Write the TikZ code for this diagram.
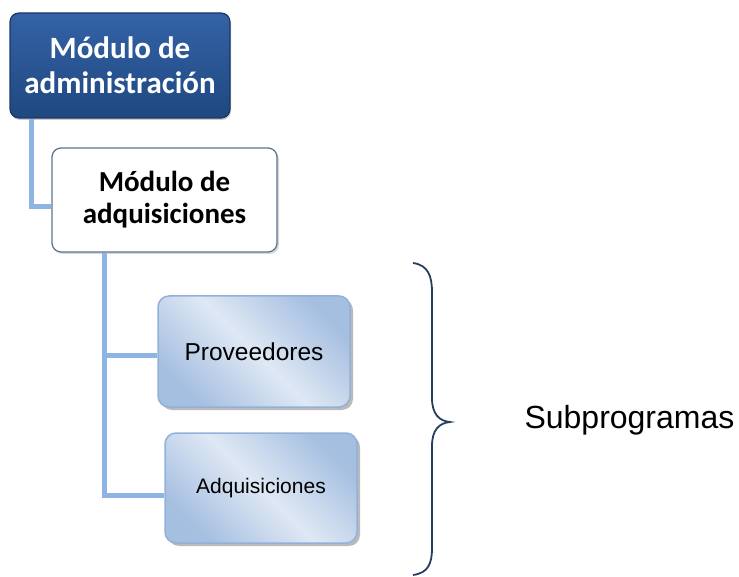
\documentclass[tikz,border=0pt]{standalone}
\usepackage{fontspec}
\setmainfont{Liberation Sans}
\newfontfamily\calib{Carlito}
\usetikzlibrary{shadows}
\definecolor{navytop}{HTML}{3462A6}
\definecolor{navybot}{HTML}{1F4880}
\definecolor{navyedge}{HTML}{1B3764}
\definecolor{linkblue}{HTML}{8DB4E2}
\definecolor{paleblue}{HTML}{DFE8F4}
\definecolor{midblue}{HTML}{A5BFE1}
\definecolor{paleedge}{HTML}{93B1D8}
\definecolor{graybord}{HTML}{5F7590}
\definecolor{bracecol}{HTML}{243F60}
\tikzset{
  topbox/.style={draw=navyedge, line width=1.2pt, rounded corners=9pt, top color=navytop, bottom color=navybot,
    text=white, font=\calib\bfseries\fontsize{31}{35}\selectfont, align=center, inner sep=0pt,
    drop shadow={shadow xshift=1pt, shadow yshift=-2pt, fill=black!40, opacity=0.5}},
  midbox/.style={draw=graybord, line width=1.3pt, rounded corners=9pt, fill=white,
    text=black, font=\calib\bfseries\fontsize{29}{32}\selectfont, align=center, inner sep=0pt,
    drop shadow={shadow xshift=2pt, shadow yshift=-2pt, fill=black!30, opacity=0.5}},
  leafbox/.style={draw=paleedge, line width=1.5pt, rounded corners=11pt,
    left color=midblue, right color=midblue, middle color=paleblue, shading angle=-45,
    text=black, inner sep=0pt,
    drop shadow={shadow xshift=3pt, shadow yshift=-3pt, fill=black!45, opacity=0.6}},
  link/.style={draw=linkblue, line width=5pt},
  bracepath/.style={draw=bracecol, line width=1.8pt},
}
\begin{document}
\begin{tikzpicture}[x=1pt,y=-1pt]
\useasboundingbox (0,0) rectangle (739,577);
\node[topbox, minimum width=220pt, minimum height=105pt] (admin) at (120,65.5) {Módulo de\\administración};
\node[midbox, minimum width=225pt, minimum height=104pt] (adq) at (164.5,200) {Módulo de\\adquisiciones};
\node[leafbox, minimum width=192pt, minimum height=111pt, font=\fontsize{24.5}{28}\selectfont] (prov) at (254,351.5) {Proveedores};
\node[leafbox, minimum width=192pt, minimum height=110pt, font=\fontsize{21}{25}\selectfont] (adqs) at (261,488) {Adquisiciones};
\coordinate (s1) at ([xshift=22pt]admin.south west);
\coordinate (s2) at ([xshift=53pt]adq.south west);
\draw[link] (s1) |- ([yshift=-7pt]adq.west);
\draw[link] (s2) |- ([yshift=-3.5pt]prov.west);
\draw[link] (s2) |- ([yshift=-7pt]adqs.west);
\node[font=\fontsize{32}{38}\selectfont, anchor=west] (sub) at (521,420) {Subprogramas};
\draw[bracepath] (413,263) .. controls (428,265) and (432,276) .. (432,292) -- (432,398)
  .. controls (432,414) and (439,421) .. (450,422)
  .. controls (439,423) and (432,430) .. (432,446) -- (432,548)
  .. controls (432,564) and (428,573) .. (413,575);
\end{tikzpicture}
\end{document}
